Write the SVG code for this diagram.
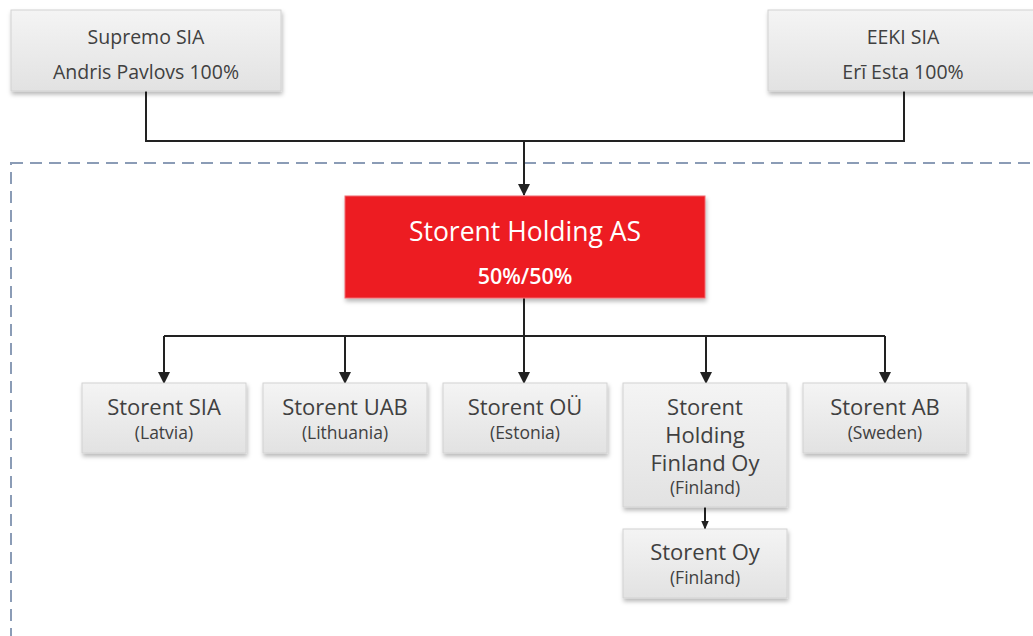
<svg xmlns="http://www.w3.org/2000/svg" width="1033" height="636" viewBox="0 0 1033 636">
<defs>
<linearGradient id="g" x1="0" y1="0" x2="0" y2="1">
<stop offset="0" stop-color="#f4f4f4"/>
<stop offset="1" stop-color="#e2e2e2"/>
</linearGradient>
<filter id="sh" x="-10%" y="-10%" width="130%" height="140%">
<feDropShadow dx="1" dy="3" stdDeviation="2" flood-color="#000" flood-opacity="0.28"/>
</filter>
<marker id="ar" markerWidth="12" markerHeight="12" refX="11" refY="6" orient="auto" markerUnits="userSpaceOnUse" viewBox="0 0 12 12">
<path d="M0,0 L12,6 L0,12 Z" fill="#222"/>
</marker>
<marker id="ars" markerWidth="9" markerHeight="8" refX="8.5" refY="4" orient="auto" markerUnits="userSpaceOnUse" viewBox="0 0 9 8">
<path d="M0,0 L9,4 L0,8 Z" fill="#222"/>
</marker>
</defs>
<style>
.box{fill:url(#g);stroke:#d2d2d2;stroke-width:1;filter:url(#sh)}
.red{fill:#ed1c24;stroke:#f06a6f;stroke-width:1;filter:url(#sh)}
text{font-family:"Open Sans","Noto Sans","Liberation Sans",sans-serif;text-anchor:middle;fill:#404040}
.t18{font-size:19.5px}
.nm{font-size:22px}
.ct{font-size:17.5px}
.w{fill:#fff}
.con{fill:none;stroke:#222;stroke-width:2}
</style>
<rect x="11" y="163" width="1040" height="500" fill="none" stroke="#8b9cb6" stroke-width="2" stroke-dasharray="12 7"/>
<g id="connectors">
<path class="con" d="M146,91 V141 H904 V91"/>
<path class="con" d="M524,141 V195" marker-end="url(#ar)"/>
<path class="con" d="M524,298 V336"/>
<path class="con" d="M164,336 H885"/>
<path class="con" d="M164,336 V383" marker-end="url(#ar)"/>
<path class="con" d="M345,336 V383" marker-end="url(#ar)"/>
<path class="con" d="M524,336 V383" marker-end="url(#ar)"/>
<path class="con" d="M706,336 V383" marker-end="url(#ar)"/>
<path class="con" d="M885,336 V383" marker-end="url(#ar)"/>
<path class="con" d="M705,507 V529" marker-end="url(#ars)"/>
</g>
<g id="supremo">
<rect class="box" x="11" y="10" width="270" height="81"/>
<text class="t18" x="146" y="44">Supremo SIA</text>
<text class="t18" x="146" y="79">Andris Pavlovs 100%</text>
</g>
<g id="eeki">
<rect class="box" x="768" y="10" width="272" height="81"/>
<text class="t18" x="903" y="44">EEKI SIA</text>
<text class="t18" x="903" y="79">Erī Esta 100%</text>
</g>
<g id="holding">
<rect class="red" x="345" y="196" width="360" height="102"/>
<text class="w" x="525" y="241" font-size="26.5">Storent Holding AS</text>
<text class="w" x="525" y="284" font-size="21.5" font-weight="600">50%/50%</text>
</g>
<g id="sia">
<rect class="box" x="82" y="383" width="164" height="70"/>
<text class="nm" x="164" y="415">Storent SIA</text>
<text class="ct" x="164" y="439">(Latvia)</text>
</g>
<g id="uab">
<rect class="box" x="263" y="383" width="164" height="70"/>
<text class="nm" x="345" y="415">Storent UAB</text>
<text class="ct" x="345" y="439">(Lithuania)</text>
</g>
<g id="ou">
<rect class="box" x="443" y="383" width="164" height="70"/>
<text class="nm" x="525" y="415">Storent OÜ</text>
<text class="ct" x="525" y="439">(Estonia)</text>
</g>
<g id="finland-holding">
<rect class="box" x="623" y="383" width="164" height="124"/>
<text class="nm" x="705" y="415">Storent</text>
<text class="nm" x="705" y="443">Holding</text>
<text class="nm" x="705" y="471">Finland Oy</text>
<text class="ct" x="705" y="494">(Finland)</text>
</g>
<g id="ab">
<rect class="box" x="803" y="383" width="164" height="70"/>
<text class="nm" x="885" y="415">Storent AB</text>
<text class="ct" x="885" y="439">(Sweden)</text>
</g>
<g id="oy">
<rect class="box" x="623" y="529" width="164" height="69"/>
<text class="nm" x="705" y="560">Storent Oy</text>
<text class="ct" x="705" y="584">(Finland)</text>
</g>
</svg>
